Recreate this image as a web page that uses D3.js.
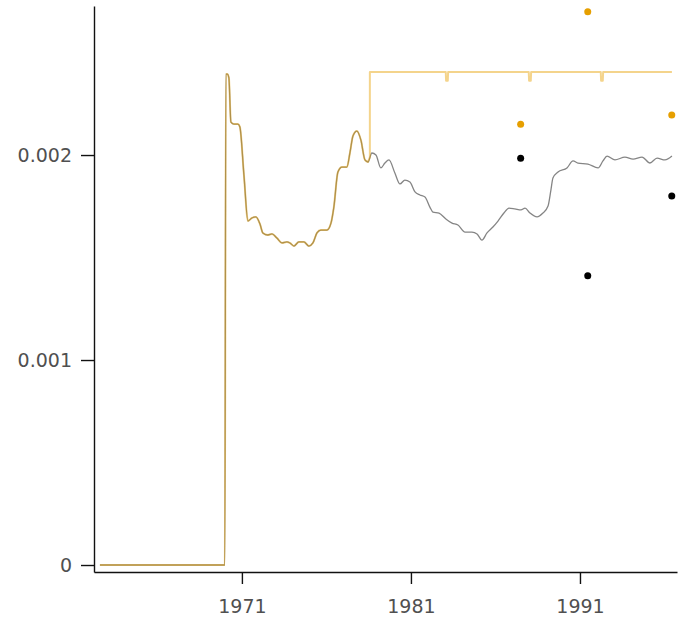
<!DOCTYPE html>
<html>
<head>
<meta charset="utf-8">
<script src="https://cdn.jsdelivr.net/npm/d3@7"></script>
<style>
  html, body { margin: 0; padding: 0; background: #fff; }
  svg { display: block; }
  .axis text { font-family: "DejaVu Sans", sans-serif; font-size: 19px; fill: #505050; }
  .axis path, .axis line { stroke: #111; stroke-width: 1.4; }
</style>
</head>
<body>
<svg id="chart" width="689" height="622"></svg>
<script>
// Observed series (decimal years, values)
const years = [1962.60, 1969.99, 1970.05, 1970.14, 1970.23, 1970.35, 1970.53, 1970.76, 1970.88, 1971.12,
  1971.36, 1971.59, 1971.83, 1972.07, 1972.24, 1972.54, 1972.78, 1973.07, 1973.37, 1973.66,
  1973.84, 1974.08, 1974.37, 1974.67, 1974.96, 1975.20, 1975.44, 1975.67, 1976.03, 1976.27,
  1976.44, 1976.68, 1976.92, 1977.21, 1977.39, 1977.57, 1977.80, 1978.04, 1978.28, 1978.46,
  1978.69, 1978.93, 1979.22, 1979.46, 1979.70, 1980.05, 1980.35, 1980.64, 1980.94, 1981.24,
  1981.53, 1981.83, 1982.12, 1982.30, 1982.66, 1983.07, 1983.43, 1983.78, 1984.20, 1984.61,
  1984.91, 1985.20, 1985.50, 1985.85, 1986.15, 1986.50, 1986.80, 1987.15, 1987.51, 1987.75,
  1988.04, 1988.46, 1988.81, 1989.11, 1989.28, 1989.40, 1989.70, 1990.23, 1990.59, 1990.88,
  1991.47, 1992.07, 1992.36, 1992.60, 1993.07, 1993.66, 1994.14, 1994.67, 1995.14, 1995.56,
  1996.03, 1996.44];
const values = [0, 0, 0.002395, 0.002395, 0.002376, 0.002161, 0.002151, 0.002151, 0.002137, 0.001902,
  0.001678, 0.001693, 0.001698, 0.001663, 0.001620, 0.001610, 0.001615, 0.001595, 0.001571, 0.001576,
  0.001571, 0.001556, 0.001576, 0.001576, 0.001556, 0.001571, 0.001620, 0.001634, 0.001634, 0.001668,
  0.001746, 0.001917, 0.001941, 0.001941, 0.002010, 0.002093, 0.002117, 0.002073, 0.001976, 0.001966,
  0.002010, 0.002000, 0.001937, 0.001961, 0.001976, 0.001912, 0.001859, 0.001878, 0.001868, 0.001820,
  0.001805, 0.001795, 0.001746, 0.001722, 0.001717, 0.001688, 0.001668, 0.001659, 0.001624, 0.001624,
  0.001615, 0.001585, 0.001620, 0.001649, 0.001678, 0.001717, 0.001741, 0.001737, 0.001732, 0.001741,
  0.001717, 0.001698, 0.001717, 0.001751, 0.001829, 0.001888, 0.001917, 0.001937, 0.001971, 0.001961,
  0.001956, 0.001937, 0.001971, 0.001995, 0.001976, 0.001990, 0.001980, 0.001990, 0.001961, 0.001985,
  0.001976, 0.001995];

// Known part of the series, then the projected level
const projYears = [1978.57, 1978.57, 1983.06, 1983.08, 1983.18, 1983.20, 1987.97, 1987.99, 1988.09, 1988.11,
  1992.23, 1992.25, 1992.35, 1992.37, 1996.44];
const projValues = [0.001990, 0.002405, 0.002405, 0.002362, 0.002362, 0.002405, 0.002405, 0.002362, 0.002362, 0.002405,
  0.002405, 0.002362, 0.002362, 0.002405, 0.002405];

// Point estimates
const orangeYears = [1987.49, 1991.46, 1996.43];
const orangeValues = [0.002150, 0.002699, 0.002195];
const blackYears = [1987.49, 1991.46, 1996.43];
const blackValues = [0.001984, 0.001411, 0.001800];

const xTicks = [1971, 1981, 1991];
const yTicks = [0, 0.001, 0.002];
const yTickLabels = ["0", "0.001", "0.002"];

const svg = d3.select("#chart");
const x = d3.scaleLinear().domain([1962.25, 1996.74]).range([94, 677]);
const y = d3.scaleLinear().domain([-0.0000341, 0.002727]).range([572, 6]);

const series = years.map((t, i) => [t, values[i]]);
const cutoff = projYears[0];
const history = series.filter(d => d[0] < cutoff);
const projection = projYears.map((t, i) => [t, projValues[i]]);

const smooth = d3.line().x(d => x(d[0])).y(d => y(d[1])).curve(d3.curveMonotoneX);
const straight = d3.line().x(d => x(d[0])).y(d => y(d[1]));

svg.append("path")
  .datum(series)
  .attr("d", smooth)
  .attr("fill", "none")
  .attr("stroke", "#858585")
  .attr("stroke-width", 1.3)
  .attr("stroke-linejoin", "round");

// translucent orange: history traced over the grey line, then the projected level
svg.append("path")
  .attr("d", smooth(history) + straight([history[history.length - 1]].concat(projection)).replace(/^M/, "L"))
  .attr("fill", "none")
  .attr("stroke", "#e69f00")
  .attr("stroke-opacity", 0.45)
  .attr("stroke-width", 2)
  .attr("stroke-linejoin", "round");

svg.append("g").selectAll("circle")
  .data(orangeYears.map((t, i) => [t, orangeValues[i]]))
  .join("circle")
  .attr("cx", d => x(d[0]))
  .attr("cy", d => y(d[1]))
  .attr("r", 3.5)
  .attr("fill", "#e69f00");

svg.append("g").selectAll("circle")
  .data(blackYears.map((t, i) => [t, blackValues[i]]))
  .join("circle")
  .attr("cx", d => x(d[0]))
  .attr("cy", d => y(d[1]))
  .attr("r", 3.5)
  .attr("fill", "#000");

svg.append("g")
  .attr("class", "axis")
  .attr("transform", "translate(0,572)")
  .call(d3.axisBottom(x).tickValues(xTicks).tickFormat(d3.format("d"))
    .tickSize(12).tickPadding(16).tickSizeOuter(0));

svg.append("g")
  .attr("class", "axis")
  .attr("transform", "translate(94,0)")
  .call(d3.axisLeft(y).tickValues(yTicks).tickFormat((d, i) => yTickLabels[i])
    .tickSize(13).tickPadding(9).tickSizeOuter(0));
</script>
</body>
</html>
